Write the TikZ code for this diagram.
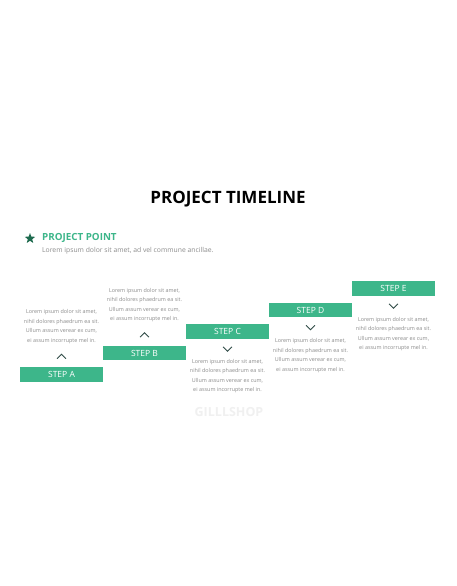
\documentclass[tikz,border=0pt]{standalone}
\usepackage{fontspec}
\setmainfont{Open Sans}
\usetikzlibrary{positioning,shapes.geometric}
\definecolor{stepgreen}{HTML}{3DB68A}
\definecolor{stardark}{HTML}{1E6B4F}
\definecolor{descgray}{HTML}{8C8C8C}
\definecolor{chevdark}{HTML}{2F4A46}

\begin{document}
\begin{tikzpicture}[x=1pt,y=-1pt,node distance=21.5pt,on grid,
 stepbox/.style={fill=stepgreen,text=white,minimum width=82.5pt,minimum height=14.5pt,inner sep=0pt,font=\fontsize{8.5}{9}\selectfont},
 desc/.style={align=center,text=descgray,font=\fontsize{5.4}{9.4}\selectfont},
 chev/.style={draw=chevdark,line width=0.8pt}]
 \useasboundingbox[fill=white] (0,0) rectangle (456,586);
 \node[font=\fontsize{17}{20}\selectfont\bfseries] (title) at (228,199) {PROJECT TIMELINE};
 \node[star,star points=5,star point ratio=2.4,fill=stardark,minimum size=11pt,inner sep=0pt] (star) at (30,238.5) {};
 \node[anchor=west,text=stepgreen,font=\fontsize{9.8}{11}\selectfont\bfseries,inner sep=0pt] (point) at (42,238) {PROJECT POINT};
 \node[anchor=west,text=descgray,font=\fontsize{6.8}{8}\selectfont,inner sep=0pt] (pointtxt) at (42,251) {Lorem ipsum dolor sit amet, ad vel commune ancillae.};

 \node[stepbox] (stepA) at (61.5,374.5) {STEP A};
 \node[stepbox] (stepB) [above right=21.5pt and 83pt of stepA] {STEP B};
 \node[stepbox] (stepC) [above right=21.5pt and 83pt of stepB] {STEP C};
 \node[stepbox] (stepD) [above right=21.5pt and 83pt of stepC] {STEP D};
 \node[stepbox] (stepE) [above right=21.5pt and 83pt of stepD] {STEP E};

 \coordinate[above=18pt of stepA] (chevA);
 \coordinate[above=18pt of stepB] (chevB);
 \coordinate[below=17.5pt of stepC] (chevC);
 \coordinate[below=17.5pt of stepD] (chevD);
 \coordinate[below=17.5pt of stepE] (chevE);
 \draw[chev] (chevA) +(-4.5,2.2) -- +(0,-2.2) -- +(4.5,2.2);
 \draw[chev] (chevB) +(-4.5,2.2) -- +(0,-2.2) -- +(4.5,2.2);
 \draw[chev] (chevC) +(-4.5,-2.2) -- +(0,2.2) -- +(4.5,-2.2);
 \draw[chev] (chevD) +(-4.5,-2.2) -- +(0,2.2) -- +(4.5,-2.2);
 \draw[chev] (chevE) +(-4.5,-2.2) -- +(0,2.2) -- +(4.5,-2.2);

 \node[desc,above=48pt of stepA] (txtA) {Lorem ipsum dolor sit amet,\\nihil dolores phaedrum ea sit.\\Ullum assum verear ex cum,\\ei assum incorrupte mel in.};
 \node[desc,above=48pt of stepB] (txtB) {Lorem ipsum dolor sit amet,\\nihil dolores phaedrum ea sit.\\Ullum assum verear ex cum,\\ei assum incorrupte mel in.};
 \node[desc,below=44.5pt of stepC] (txtC) {Lorem ipsum dolor sit amet,\\nihil dolores phaedrum ea sit.\\Ullum assum verear ex cum,\\ei assum incorrupte mel in.};
 \node[desc,below=45.5pt of stepD] (txtD) {Lorem ipsum dolor sit amet,\\nihil dolores phaedrum ea sit.\\Ullum assum verear ex cum,\\ei assum incorrupte mel in.};
 \node[desc,below=45.5pt of stepE] (txtE) {Lorem ipsum dolor sit amet,\\nihil dolores phaedrum ea sit.\\Ullum assum verear ex cum,\\ei assum incorrupte mel in.};

 \node[text=black!6,font=\fontsize{12.5}{14}\selectfont\bfseries] (mark) at (229,412) {GILLLSHOP};
\end{tikzpicture}
\end{document}
